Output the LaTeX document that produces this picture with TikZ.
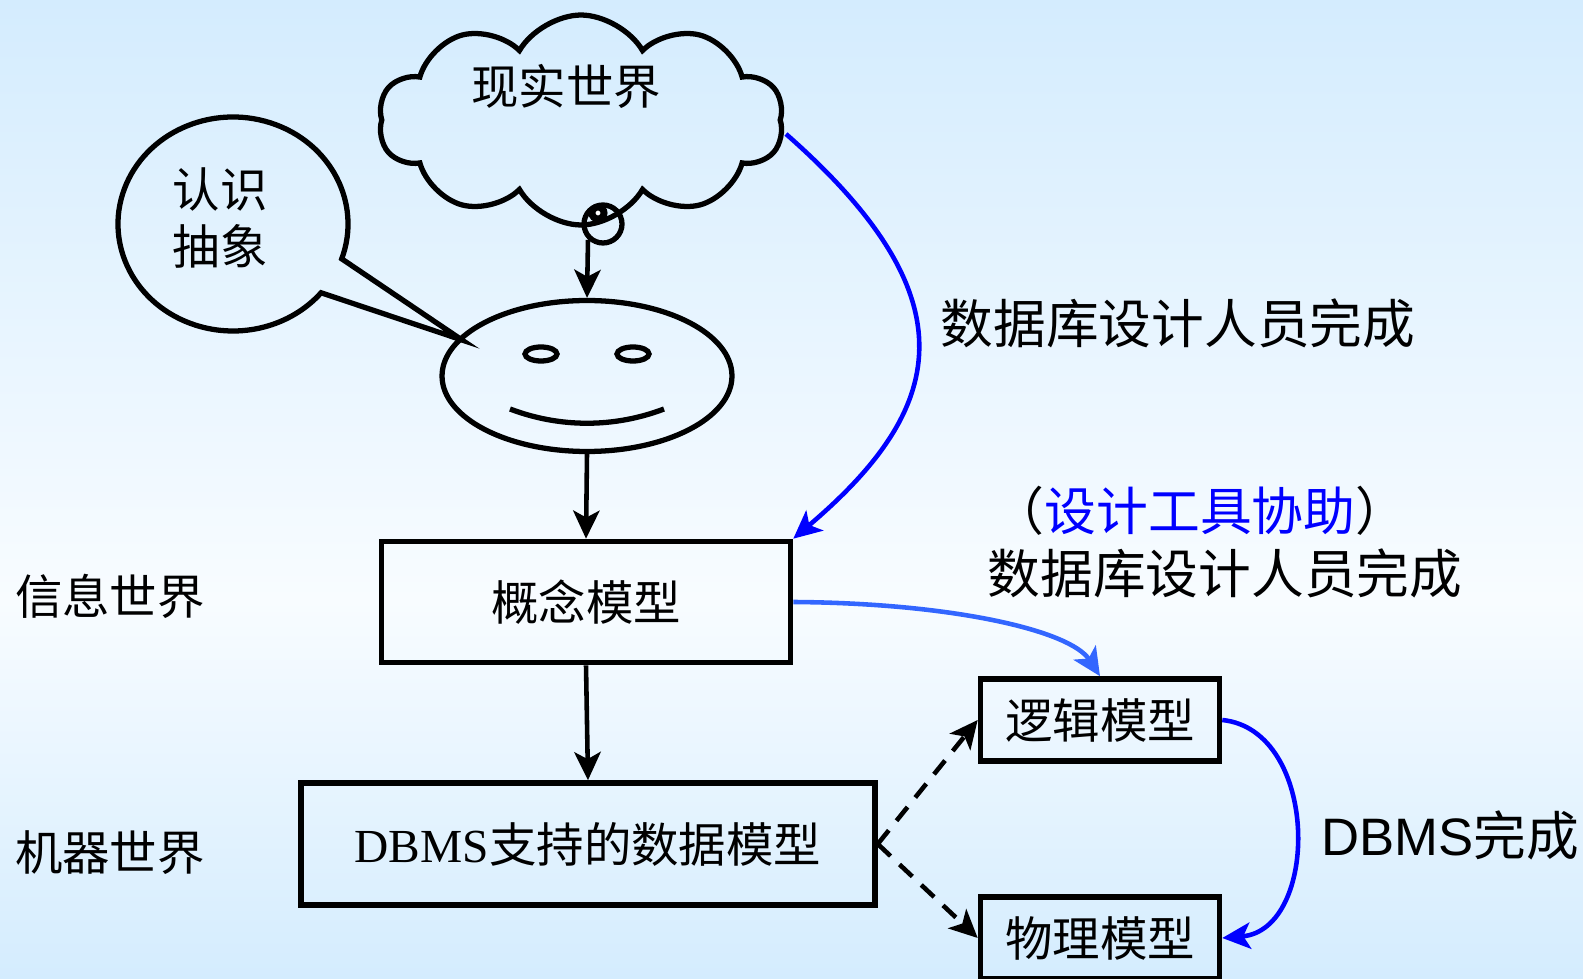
\documentclass[tikz,border=0pt]{standalone}
\usepackage{fontspec}
\setmainfont{Noto Sans CJK SC}
\newfontfamily\timesfont{Liberation Serif}
\newfontfamily\arialfont{Liberation Sans}
\usetikzlibrary{arrows.meta,shapes.geometric,shapes.symbols}

\definecolor{skyblue}{RGB}{212,236,254}
\definecolor{paleblue}{RGB}{248,252,255}
\definecolor{toolblue}{RGB}{51,102,255}

\tikzset{
    model/.style={draw, line width=3.2pt, inner sep=0pt},
    flow/.style={line width=2.6pt, -{Stealth[length=16pt, width=15pt, inset=4pt]}},
    outline/.style={line width=3pt},
}

\begin{document}
\begin{tikzpicture}[x=0.02cm, y=0.02cm, font=\fontsize{27}{32.3}\selectfont]
            % background, pale in the middle
            \shade[top color=skyblue, bottom color=paleblue] (0,0) rectangle (1583,-600);
            \shade[top color=paleblue, bottom color=skyblue] (0,-600) rectangle (1583,-979);
            \useasboundingbox (0,0) rectangle (1583,-979);

            % real world as a thought cloud
            \node[cloud, draw, outline, cloud puffs=10, cloud puff arc=120,
                cloud ignores aspect, minimum width=8.1cm, minimum height=4.2cm]
                (real) at (581,-120) {};
            \node (realtxt) at (566,-86) {现实世界};
            \draw[outline] (603,-224) circle (19);
            \draw[line width=4pt, fill=white] (598,-213) circle (6);
            \coordinate (tail) at (588,-240);

            % the designer
            \node[ellipse, draw, outline, minimum width=5.8cm, minimum height=3.02cm]
                (face) at (587,-376) {};
            \draw[outline] (541,-354) ellipse [x radius=16, y radius=7];
            \draw[outline] (633,-354) ellipse [x radius=16, y radius=7];
            \draw[outline] (510,-409) .. controls (560,-428) and (614,-428) .. (664,-409);

            % speech bubble
            \draw
                [outline]
                (462,-340) -- ([shift={(-19:115 and 107)}]233,-224)
                arc[start angle=-19, end angle=320, x radius=115, y radius=107] -- cycle;
            \node[align=center] (think) at (220,-218) {认识\\抽象};

            % models
            \node[model, minimum width=8.18cm, minimum height=2.42cm] (concept) at (586,-602) {概念模型};
            \node[model, minimum width=11.48cm, minimum height=2.44cm] (dbms) at (588,-844) {{\timesfont DBMS}支持的数据模型};
            \node[model, minimum width=4.78cm, minimum height=1.64cm] (logic) at (1100,-720) {逻辑模型};
            \node[model, minimum width=4.78cm, minimum height=1.64cm] (phys) at (1100,-938) {物理模型};

            \node (info) at (110,-596) {信息世界};
            \node (machine) at (110,-853) {机器世界};

            \draw[flow] (tail) -- (face.north);
            \draw[flow] (face.south) -- (concept.north);
            \draw[flow] (concept.south) -- (dbms.north);
            \draw[flow, dash pattern=on 10pt off 7pt] (dbms.east) -- (logic.west);
            \draw[flow, dash pattern=on 10pt off 7pt] (dbms.east) -- (phys.west);

            % who does which step
            \coordinate (cloudright) at (786,-134);
            \draw[flow, blue] (cloudright) .. controls (975,-300) and (945,-410) .. (concept.north east);
            \draw[flow, toolblue] (concept.east) .. controls (950,-603) and (1070,-630) .. (logic.north);
            \draw[flow, blue] (logic.east) .. controls (1320,-730) and (1320,-930) .. (phys.east);

            \node[font=\fontsize{30}{36}\selectfont] (who) at (1178,-323) {数据库设计人员完成};
            \node[font=\fontsize{29.5}{36}\selectfont] (tool) at (1200,-511) {（\textcolor{blue}{设计工具协助}）};
            \node[font=\fontsize{30}{36}\selectfont] (whotool) at (1225,-573) {数据库设计人员完成};
            \node[font=\fontsize{30}{36}\selectfont] (dbmsdone) at (1450,-835) {{\arialfont DBMS}完成};
\end{tikzpicture}
\end{document}
